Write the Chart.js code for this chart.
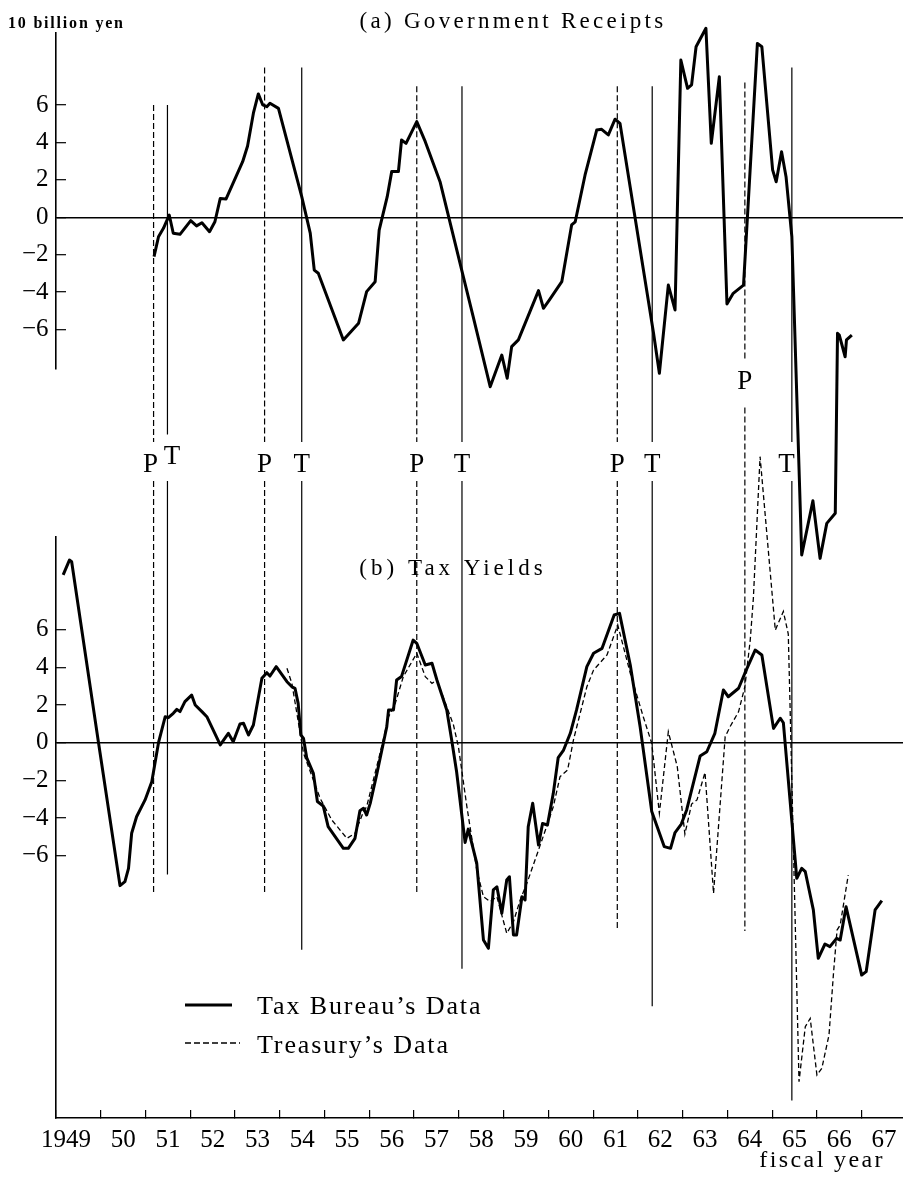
<!DOCTYPE html>
<html>
<head>
<meta charset="utf-8">
<title>Government Receipts and Tax Yields</title>
<script src="https://cdn.jsdelivr.net/npm/chart.js@4.4.1/dist/chart.umd.min.js"></script>
<style>
  html, body { margin: 0; padding: 0; background: #fff; }
  #wrap { width: 903px; height: 1181px; position: relative; }
  canvas { display: block; }
</style>
</head>
<body>
<div id="wrap"><canvas id="chart" width="903" height="1181"></canvas></div>
<script>
// Fiscal-year axis: tick k marks the start of fiscal year k, label sits in the middle of the year
const yearTicks = [1949, 1950, 1951, 1952, 1953, 1954, 1955, 1956, 1957, 1958, 1959, 1960, 1961, 1962, 1963, 1964, 1965, 1966, 1967];
const yearLabels = ['1949', '50', '51', '52', '53', '54', '55', '56', '57', '58', '59', '60', '61', '62', '63', '64', '65', '66', '67'];
const valueTicks = [-6, -4, -2, 0, 2, 4, 6];

// (a) Government receipts, deviation in 10 billion yen: [fiscal year, value]
const receipts = [
  [1951.19, -2.10], [1951.29, -1.04], [1951.40, -0.59], [1951.53, 0.12], [1951.62, -0.85], [1951.77, -0.91],
  [1952.01, -0.18], [1952.14, -0.46], [1952.26, -0.29], [1952.43, -0.77], [1952.55, -0.24], [1952.67, 1.01],
  [1952.80, 0.98], [1953.17, 2.97], [1953.28, 3.81], [1953.41, 5.56], [1953.52, 6.59], [1953.62, 6.00],
  [1953.71, 5.91], [1953.78, 6.09], [1953.97, 5.82], [1954.49, 1.10], [1954.68, -0.85], [1954.77, -2.82],
  [1954.86, -2.99], [1955.42, -6.55], [1955.76, -5.66], [1955.94, -3.97], [1956.13, -3.44], [1956.22, -0.68],
  [1956.40, 1.10], [1956.50, 2.44], [1956.65, 2.44], [1956.72, 4.13], [1956.82, 3.95], [1957.06, 5.11],
  [1957.25, 4.04], [1957.58, 1.90], [1958.10, -3.17], [1958.32, -5.31], [1958.70, -9.05], [1958.96, -7.36],
  [1959.08, -8.60], [1959.18, -6.91], [1959.33, -6.55], [1959.78, -3.92], [1959.89, -4.86], [1960.02, -4.42],
  [1960.30, -3.44], [1960.52, -0.41], [1960.60, -0.24], [1960.82, 2.26], [1961.08, 4.66], [1961.19, 4.70],
  [1961.34, 4.40], [1961.49, 5.24], [1961.60, 5.02], [1962.35, -6.20], [1962.48, -8.33], [1962.68, -3.62],
  [1962.83, -4.95], [1962.96, 8.40], [1963.11, 6.89], [1963.20, 7.07], [1963.30, 9.11], [1963.52, 10.10],
  [1963.64, 3.95], [1963.82, 7.51], [1963.99, -4.63], [1964.13, -4.06], [1964.36, -3.62], [1964.67, 9.29],
  [1964.77, 9.11], [1965.01, 2.53], [1965.09, 1.90], [1965.21, 3.50], [1965.31, 2.17], [1965.44, -1.04],
  [1965.66, -18.04], [1965.91, -15.14], [1966.07, -18.22], [1966.22, -16.35], [1966.41, -15.81], [1966.46, -6.20],
  [1966.50, -6.29], [1966.63, -7.45], [1966.66, -6.55], [1966.78, -6.29]
];

// (b) Tax yields, Tax Bureau's data
const taxBureau = [
  [1949.16, 8.91], [1949.30, 9.70], [1949.35, 9.61], [1949.95, 0.00], [1950.43, -7.59], [1950.54, -7.38],
  [1950.62, -6.67], [1950.69, -4.81], [1950.80, -3.93], [1950.99, -3.04], [1951.14, -2.07], [1951.29, 0.00],
  [1951.44, 1.38], [1951.51, 1.33], [1951.62, 1.56], [1951.70, 1.77], [1951.77, 1.65], [1951.88, 2.18],
  [1952.03, 2.53], [1952.11, 2.00], [1952.26, 1.65], [1952.37, 1.38], [1952.67, -0.12], [1952.85, 0.50],
  [1952.96, 0.05], [1953.11, 0.99], [1953.19, 1.03], [1953.30, 0.41], [1953.41, 0.94], [1953.60, 3.42],
  [1953.71, 3.72], [1953.78, 3.54], [1953.92, 4.04], [1954.16, 3.24], [1954.27, 2.97], [1954.34, 2.89],
  [1954.41, 2.09], [1954.47, 0.41], [1954.53, 0.23], [1954.60, -0.79], [1954.75, -1.63], [1954.84, -3.12],
  [1954.97, -3.36], [1955.08, -4.46], [1955.42, -5.61], [1955.53, -5.61], [1955.68, -5.08], [1955.79, -3.61],
  [1955.87, -3.48], [1955.94, -3.84], [1956.02, -3.22], [1956.17, -1.63], [1956.39, 0.85], [1956.43, 1.74],
  [1956.54, 1.74], [1956.61, 3.33], [1956.72, 3.52], [1956.98, 5.45], [1957.06, 5.28], [1957.25, 4.13],
  [1957.40, 4.22], [1957.51, 3.33], [1957.73, 1.74], [1957.84, 0.14], [1957.95, -1.54], [1958.14, -5.30],
  [1958.21, -4.59], [1958.40, -6.40], [1958.55, -10.48], [1958.66, -10.92], [1958.77, -7.82], [1958.85, -7.65],
  [1958.96, -9.06], [1959.07, -7.29], [1959.13, -7.12], [1959.22, -10.21], [1959.29, -10.21], [1959.41, -8.18],
  [1959.48, -8.35], [1959.55, -4.46], [1959.65, -3.22], [1959.78, -5.43], [1959.87, -4.29], [1959.98, -4.37],
  [1960.11, -2.69], [1960.22, -0.79], [1960.34, -0.39], [1960.49, 0.50], [1960.63, 1.74], [1960.86, 4.04],
  [1961.01, 4.75], [1961.20, 5.01], [1961.47, 6.78], [1961.59, 6.87], [1961.83, 4.13], [1962.05, 0.85],
  [1962.31, -3.66], [1962.59, -5.52], [1962.73, -5.61], [1962.83, -4.77], [1962.97, -4.32], [1963.09, -3.57],
  [1963.39, -0.71], [1963.54, -0.48], [1963.72, 0.50], [1963.91, 2.80], [1964.02, 2.44], [1964.25, 2.89],
  [1964.39, 3.69], [1964.62, 4.92], [1964.77, 4.66], [1965.03, 0.76], [1965.18, 1.30], [1965.25, 1.06],
  [1965.55, -7.20], [1965.66, -6.67], [1965.74, -6.85], [1965.92, -8.88], [1966.03, -11.45], [1966.18, -10.69],
  [1966.29, -10.83], [1966.44, -10.39], [1966.52, -10.48], [1966.65, -8.71], [1967.00, -12.34], [1967.10, -12.16],
  [1967.30, -8.88], [1967.45, -8.39]
];

// (b) Tax yields, Treasury's data
const treasury = [
  [1954.16, 3.95], [1954.27, 3.15], [1954.53, -0.56], [1954.75, -1.98], [1954.90, -2.95], [1955.16, -4.10],
  [1955.50, -5.08], [1955.68, -4.81], [1955.87, -3.66], [1955.94, -3.40], [1956.24, -0.56], [1956.43, 1.38],
  [1956.58, 2.09], [1956.76, 3.51], [1957.06, 4.75], [1957.25, 3.51], [1957.40, 3.15], [1957.51, 3.33],
  [1957.73, 1.91], [1957.88, 0.94], [1957.99, -0.21], [1958.18, -3.40], [1958.40, -6.76], [1958.55, -8.18],
  [1958.70, -8.44], [1958.85, -8.18], [1959.00, -9.51], [1959.07, -10.12], [1959.22, -9.51], [1959.37, -8.35],
  [1959.52, -7.47], [1959.78, -5.70], [1959.96, -4.46], [1960.11, -3.40], [1960.26, -1.81], [1960.43, -1.45],
  [1960.56, 0.14], [1960.86, 2.97], [1961.01, 3.86], [1961.31, 4.66], [1961.55, 6.25], [1961.83, 3.69],
  [1962.12, 1.38], [1962.31, -0.03], [1962.48, -3.75], [1962.68, 0.58], [1962.88, -1.27], [1963.05, -4.85],
  [1963.20, -3.26], [1963.32, -3.04], [1963.50, -1.58], [1963.69, -8.00], [1963.95, 0.32], [1964.06, 0.85],
  [1964.25, 1.65], [1964.39, 2.97], [1964.51, 5.45], [1964.58, 7.67], [1964.73, 15.19], [1965.07, 5.98],
  [1965.25, 6.97], [1965.36, 5.77], [1965.40, 1.91], [1965.60, -18.00], [1965.74, -15.08], [1965.85, -14.64],
  [1966.00, -17.65], [1966.11, -17.29], [1966.27, -15.52], [1966.37, -12.25], [1966.45, -9.95], [1966.52, -9.68],
  [1966.70, -7.03]
];

// Business-cycle peaks (P) and troughs (T)
const peakYears = [1951.18, 1953.66, 1957.06, 1961.54, 1964.39];
const troughYears = [1951.49, 1954.49, 1958.07, 1962.32, 1965.44];
// upper ends, in panel (a) units
const peakTops = [6, 8, 7, 7, 7.2];
const troughTops = [6, 8, 7, 7, 8];
// letter positions, in panel (a) units
const peakLabelLevels = [-13.1, -13.1, -13.1, -13.1, -8.7];
const troughLabelLevels = [-12.7, -13.1, -13.1, -13.1, -13.1];
const peakLabelYears = [1951.11, 1953.66, 1957.06, 1961.54, 1964.39];
const troughLabelYears = [1951.59, 1954.49, 1958.07, 1962.32, 1965.32];
// where each line resumes below its letter, and its lower end, in panel (b) units
const peakResume = [13.9, 13.9, 13.9, 13.9, 17.8];
const troughResume = [13.9, 13.9, 13.9, 13.9, 13.9];
const peakBottoms = [-8, -8, -8, -10, -10];
const troughBottoms = [-7, -11, -12, -14, -19];

const SERIF = '"Liberation Serif", "DejaVu Serif", serif';
const toPoints = arr => arr.map(([x, y]) => ({ x, y }));

function cycleLines(years, tops, levels, resume, bottoms, dashed) {
  const style = {
    borderColor: '#000', borderWidth: 1.2, borderDash: dashed ? [6, 3] : [],
    pointRadius: 0, fill: false, clip: false, tension: 0
  };
  const sets = [];
  years.forEach((t, i) => {
    sets.push(Object.assign({ yAxisID: 'ya', data: [{ x: t, y: tops[i] }, { x: t, y: levels[i] + 1.1 }] }, style));
    sets.push(Object.assign({ yAxisID: 'yb', data: [{ x: t, y: resume[i] }, { x: t, y: bottoms[i] }] }, style));
  });
  return sets;
}

const datasets = [
  { label: 'Government Receipts', yAxisID: 'ya', data: toPoints(receipts), borderColor: '#000', borderWidth: 3,
    pointRadius: 0, fill: false, clip: false, tension: 0, borderJoinStyle: 'round' },
  { label: "Tax Bureau's Data", yAxisID: 'yb', data: toPoints(taxBureau), borderColor: '#000', borderWidth: 3,
    pointRadius: 0, fill: false, clip: false, tension: 0, borderJoinStyle: 'round' },
  { label: "Treasury's Data", yAxisID: 'yb', data: toPoints(treasury), borderColor: '#000', borderWidth: 1.3,
    borderDash: [5, 3], pointRadius: 0, fill: false, clip: false, tension: 0 }
].concat(
  cycleLines(peakYears, peakTops, peakLabelLevels, peakResume, peakBottoms, true),
  cycleLines(troughYears, troughTops, troughLabelLevels, troughResume, troughBottoms, false)
);

function panelAxis(min, max, weight) {
  return {
    type: 'linear', position: 'left', stack: 'panels', stackWeight: weight, min, max,
    afterBuildTicks: s => { s.ticks = valueTicks.map(v => ({ value: v })); },
    afterFit: s => { s.width = 56; },
    ticks: {
      color: '#000', padding: 17.5, autoSkip: false, font: { family: SERIF, size: 25 },
      callback: v => (v < 0 ? '\u2212' + Math.abs(v) : String(v))
    },
    grid: {
      color: c => (c.tick && c.tick.value === 0 ? '#000' : 'rgba(0,0,0,0)'),
      tickColor: '#000', tickLength: -10, lineWidth: 1.4, tickWidth: 1.2
    },
    border: { display: true, color: '#000', width: 1.6 }
  };
}

function spaced(ctx, str, x, y, font, spacing, align) {
  ctx.font = font;
  ctx.letterSpacing = spacing + 'px';
  ctx.textAlign = align;
  ctx.textBaseline = 'alphabetic';
  ctx.fillText(str, x, y);
}

// Titles, unit, P/T letters and the key
const annotations = {
  id: 'annotations',
  afterDatasetsDraw(chart) {
    const { ctx } = chart;
    const { x, ya } = chart.scales;
    ctx.save();
    ctx.fillStyle = '#000';
    spaced(ctx, '10 billion yen', 8, 28, 'bold 16px ' + SERIF, 1.8, 'left');
    spaced(ctx, '(a) Government Receipts', 513, 27.5, '23px ' + SERIF, 3.3, 'center');
    spaced(ctx, '(b) Tax Yields', 453, 574.5, '23px ' + SERIF, 4, 'center');
    spaced(ctx, 'fiscal year', 885, 1167, '24px ' + SERIF, 2.4, 'right');

    peakLabelYears.forEach((t, i) => {
      spaced(ctx, 'P', x.getPixelForValue(t), ya.getPixelForValue(peakLabelLevels[i]) + 9, '27px ' + SERIF, 0, 'center');
    });
    troughLabelYears.forEach((t, i) => {
      spaced(ctx, 'T', x.getPixelForValue(t), ya.getPixelForValue(troughLabelLevels[i]) + 9, '27px ' + SERIF, 0, 'center');
    });

    // key
    ctx.strokeStyle = '#000';
    ctx.lineWidth = 3;
    ctx.setLineDash([]);
    ctx.beginPath(); ctx.moveTo(185, 1005); ctx.lineTo(232, 1005); ctx.stroke();
    ctx.lineWidth = 1.3;
    ctx.setLineDash([6, 3]);
    ctx.beginPath(); ctx.moveTo(185, 1043); ctx.lineTo(240, 1043); ctx.stroke();
    ctx.setLineDash([]);
    spaced(ctx, 'Tax Bureau\u2019s Data', 257, 1013.5, '26px ' + SERIF, 1.9, 'left');
    spaced(ctx, 'Treasury\u2019s Data', 257, 1053, '26px ' + SERIF, 1.9, 'left');
    ctx.restore();
  }
};

new Chart(document.getElementById('chart'), {
  type: 'line',
  data: { datasets },
  plugins: [annotations],
  options: {
    responsive: false,
    animation: false,
    devicePixelRatio: 1,
    layout: { padding: { top: 33, left: 0, right: 0, bottom: 0 }, autoPadding: false },
    plugins: { legend: { display: false }, tooltip: { enabled: false }, title: { display: false } },
    elements: { point: { radius: 0 }, line: { tension: 0 } },
    scales: {
      x: {
        type: 'linear', position: 'bottom', min: 1949, max: 1967.923,
        afterBuildTicks: s => { s.ticks = yearTicks.map(v => ({ value: v })); },
        afterFit: s => { s.height = 63; },
        ticks: {
          color: '#000', autoSkip: false, maxRotation: 0, minRotation: 0, labelOffset: 22.38, padding: 15,
          font: { family: SERIF, size: 25 },
          // the first label is the full year; trailing spaces keep it clear of "50"
          callback: (v, i) => (i === 0 ? yearLabels[i] + '    ' : yearLabels[i])
        },
        grid: { drawOnChartArea: false, tickLength: -8, tickColor: '#000', color: '#000', lineWidth: 1.2 },
        border: { display: true, color: '#000', width: 1.6 }
      },
      yb: panelAxis(-19.931, 10.924, 581),
      gap: {
        type: 'linear', position: 'left', stack: 'panels', stackWeight: 168, min: 0, max: 1,
        afterFit: s => { s.width = 56; },
        ticks: { display: false }, grid: { display: false }, border: { display: false }
      },
      ya: panelAxis(-8.104, 9.845, 336)
    }
  }
});
</script>
</body>
</html>
